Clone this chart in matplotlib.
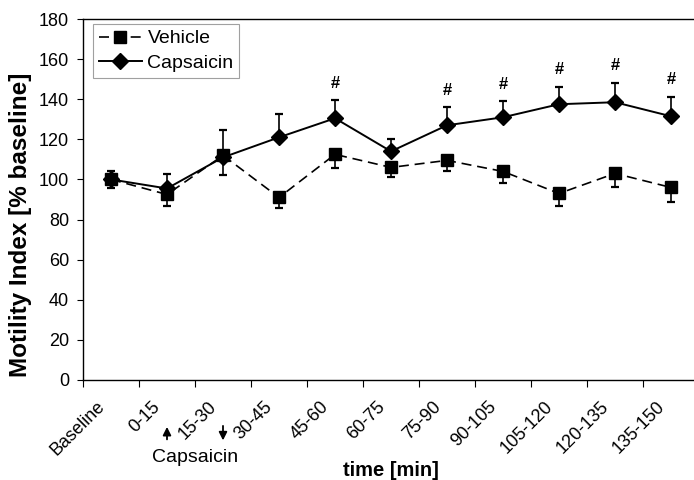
import numpy as np
import matplotlib.pyplot as plt
from matplotlib.lines import Line2D
from matplotlib.transforms import ScaledTranslation

plt.rcParams['font.family'] = ['Liberation Sans', 'DejaVu Sans']

periods = ['Baseline', '0-15', '15-30', '30-45', '45-60', '60-75',
           '75-90', '90-105', '105-120', '120-135', '135-150']
vehicle = [100, 92.5, 112, 91, 112.5, 106, 109.5, 104, 93, 103, 96]
vehicle_err = [4.5, 5.5, 10, 5, 7, 5, 5.5, 6, 6, 7, 7]
capsaicin = [100, 95.5, 111, 121, 130.5, 114, 127, 131, 137.5, 138.5, 131.5]
capsaicin_err = [4, 7, 13.5, 11.5, 9, 6, 9, 8, 8.5, 9.5, 9.5]
significant = [False, False, False, False, True, False, True, True, True, True, True]

x = np.arange(len(periods))
zeros = np.zeros(len(periods))

fig = plt.figure(figsize=(6.94, 4.80), dpi=100)
ax = fig.add_axes([83 / 694, 100 / 480, 616 / 694, 361 / 480])

veh_style = dict(color='black', lw=1.2, ls=(0, (6, 3.5)), marker='s', ms=9,
                 mfc='black', mec='black')
cap_style = dict(color='black', lw=1.4, ls='-', marker='D', ms=8.5,
                 mfc='black', mec='black')

# vehicle: dashed with downward error bars
ax.errorbar(x, vehicle, yerr=[vehicle_err, zeros], ecolor='black',
            elinewidth=1.2, capsize=2.7, capthick=1.6, zorder=3, **veh_style)
# capsaicin: solid with upward error bars
ax.errorbar(x, capsaicin, yerr=[zeros, capsaicin_err], ecolor='black',
            elinewidth=1.2, capsize=2.7, capthick=1.6, zorder=4, **cap_style)

for xi, yi, ei, sig in zip(x, capsaicin, capsaicin_err, significant):
    if sig:
        ax.annotate('#', (xi, yi + ei), xytext=(0, 7), textcoords='offset points',
                    ha='center', va='bottom', fontsize=12, fontweight='bold')

ax.set_xlim(-0.5, len(periods) - 0.5)
ax.set_ylim(0, 180)
ax.set_yticks(np.arange(0, 181, 20))
ax.tick_params(axis='y', labelsize=13, length=4, direction='out', pad=6)

# category boundaries carry the tick marks, centres carry the labels
ax.set_xticks(np.arange(-0.5, len(periods), 1))
ax.set_xticklabels([])
ax.tick_params(axis='x', which='major', length=5, direction='out')
ax.set_xticks(x, minor=True)
ax.set_xticklabels(periods, minor=True, rotation=45, ha='right',
                   rotation_mode='anchor', fontsize=13)
ax.tick_params(axis='x', which='minor', length=0, pad=13)
shift = ScaledTranslation(-0.15, 0, fig.dpi_scale_trans)
for lab in ax.get_xticklabels(minor=True):
    lab.set_transform(lab.get_transform() + shift)

for s in ax.spines.values():
    s.set_linewidth(1.0)

ax.set_ylabel('Motility Index [% baseline]', fontsize=17.5, fontweight='bold')
ax.yaxis.set_label_coords(-0.083, 0.429)
fig.text(391 / 694, 1 - 470 / 480, 'time [min]', ha='center', va='center',
         fontsize=14.5, fontweight='bold')

# capsaicin application window
fig.text(195 / 694, 1 - 458 / 480, 'Capsaicin', ha='center', va='center', fontsize=14)
arrow = dict(arrowstyle='-|>', color='black', lw=1.3, mutation_scale=12)
ax.annotate('', xy=(1, -22), xytext=(1, -31), arrowprops=arrow,
            annotation_clip=False)
ax.annotate('', xy=(2, -31.5), xytext=(2, -21.5), arrowprops=arrow,
            annotation_clip=False)

handles = [Line2D([], [], **veh_style), Line2D([], [], **cap_style)]
leg = ax.legend(handles, ['Vehicle', 'Capsaicin'], loc='upper left',
                bbox_to_anchor=(93 / 694, 1 - 24 / 480),
                bbox_transform=fig.transFigure, fontsize=14, frameon=True,
                fancybox=False, edgecolor='#888888', handlelength=2.2,
                borderpad=0.3, labelspacing=0.35, handletextpad=0.3,
                borderaxespad=0)
leg.get_frame().set_linewidth(0.8)

fig.savefig('out.png', dpi=100)
